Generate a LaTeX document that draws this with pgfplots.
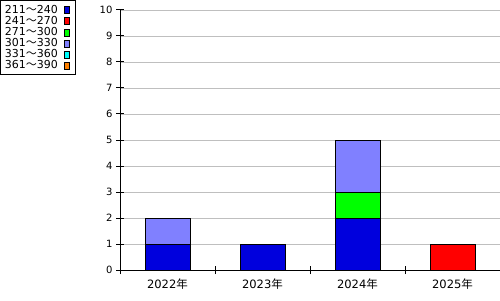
\documentclass[border=0pt]{standalone}
\usepackage{fontspec}
\setmainfont{DejaVu Sans}
\newfontfamily\cjk{Noto Sans CJK JP}
\usepackage{pgfplots}
\pgfplotsset{compat=1.18}
\definecolor{cA}{RGB}{0,0,221}
\definecolor{cB}{RGB}{255,0,0}
\definecolor{cC}{RGB}{0,255,0}
\definecolor{cD}{RGB}{128,128,255}
\definecolor{cE}{RGB}{0,255,255}
\definecolor{cF}{RGB}{255,128,0}
\begin{document}
\begin{tikzpicture}[x=1pt,y=1pt]
\path[use as bounding box] (0,0) rectangle (500,300);
\begin{axis}[
  at={(120pt,30pt)}, anchor=south west,
  scale only axis, width=380pt, height=260pt,
  xmin=0, xmax=4, ymin=0, ymax=10,
  axis lines=left, axis line style={-, line width=1pt},
  ytick={0,...,10},
  ymajorgrids, grid style={black!25, line width=0.8pt},
  xtick={0,1,2,3}, xticklabels={},
  tick align=center, major tick length=8pt,
  tick style={black, line width=1pt},
  extra x ticks={0.5,1.5,2.5,3.5},
  extra x tick labels={2022{\cjk 年},2023{\cjk 年},2024{\cjk 年},2025{\cjk 年}},
  extra x tick style={major tick length=0pt, grid=none},
  xticklabel style={font=\fontsize{11.5}{13}\selectfont, yshift=-5pt},
  yticklabel style={font=\fontsize{10}{12}\selectfont},
  /pgf/number format/assume math mode=true,
  ybar stacked, bar width=45pt,
  legend plot pos=right, legend cell align=left,
  legend style={at={(-0.31579,1.03846)}, anchor=north west, draw=black, line width=0.8pt,
    font=\fontsize{11}{11}\selectfont, row sep=-2.6pt, inner sep=2.5pt, yshift=-0.5pt},
  legend image code/.code={\path (0pt,0pt) (12pt,0pt); \draw[#1, line width=0.6pt] (4pt,-3.5pt) rectangle (9.5pt,3.5pt);},
]
\addplot[fill=cA, draw=black] coordinates {(0.5,1) (1.5,1) (2.5,2) (3.5,0)};
\addplot[fill=cB, draw=black] coordinates {(0.5,0) (1.5,0) (2.5,0) (3.5,1)};
\addplot[fill=cC, draw=black] coordinates {(0.5,0) (1.5,0) (2.5,1) (3.5,0)};
\addplot[fill=cD, draw=black] coordinates {(0.5,1) (1.5,0) (2.5,2) (3.5,0)};
\addplot[fill=cE, draw=black] coordinates {(0.5,0) (1.5,0) (2.5,0) (3.5,0)};
\addplot[fill=cF, draw=black] coordinates {(0.5,0) (1.5,0) (2.5,0) (3.5,0)};
\legend{211{\cjk ～}240,241{\cjk ～}270,271{\cjk ～}300,301{\cjk ～}330,331{\cjk ～}360,361{\cjk ～}390}
\end{axis}
\end{tikzpicture}
\end{document}
